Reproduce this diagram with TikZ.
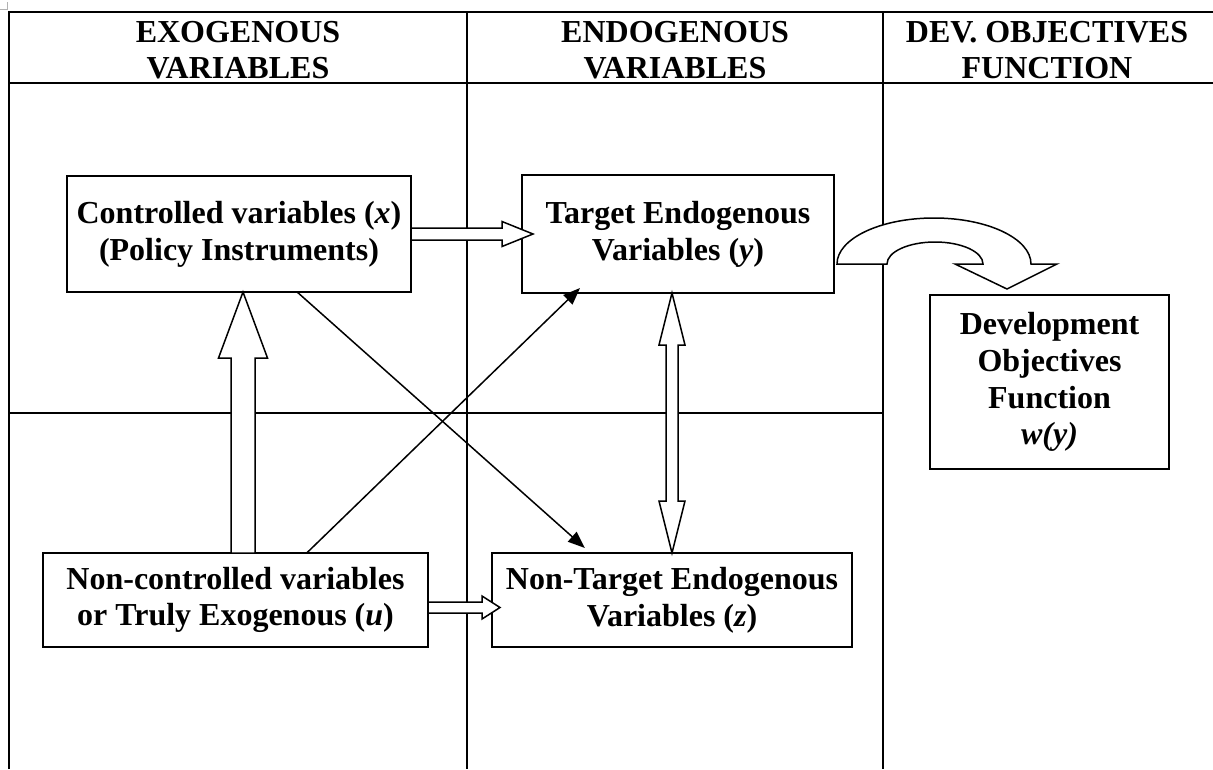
\documentclass[tikz,border=0pt]{standalone}
\usepackage{fontspec}
\setmainfont{Liberation Serif}
\usetikzlibrary{calc,arrows.meta}
\newcommand\blockarr[5]{%
  \coordinate (ba) at #1; \coordinate (bb) at #2;
  \coordinate (bh) at ($(bb)!#5!(ba)$);
  \draw[blk] ($(ba)!#3!90:(bb)$) -- ($(bh)!#3!-90:(ba)$) -- ($(bh)!#4!-90:(ba)$) -- (bb)
    -- ($(bh)!#4!90:(ba)$) -- ($(bh)!#3!90:(ba)$) -- ($(ba)!#3!-90:(bb)$) -- cycle;}
\newcommand\dblarr[5]{%
  \coordinate (da) at #1; \coordinate (db) at #2;
  \coordinate (dha) at ($(da)!#5!(db)$); \coordinate (dhb) at ($(db)!#5!(da)$);
  \draw[blk] (da) -- ($(dha)!#4!90:(db)$) -- ($(dha)!#3!90:(db)$) -- ($(dhb)!#3!-90:(da)$)
    -- ($(dhb)!#4!-90:(da)$) -- (db) -- ($(dhb)!#4!90:(da)$) -- ($(dhb)!#3!90:(da)$)
    -- ($(dha)!#3!-90:(db)$) -- ($(dha)!#4!-90:(db)$) -- cycle;}
\begin{document}
\begin{tikzpicture}[x=1pt,y=-1pt,
  grid/.style={line width=1.8pt},
  box/.style={draw, line width=1.8pt, align=center, inner sep=0pt, outer sep=0pt,
    font=\bfseries\fontsize{32}{36.8}\selectfont},
  hdr/.style={align=center, inner sep=0pt, font=\bfseries\fontsize{32}{36}\selectfont},
  blk/.style={draw, fill=white, line width=1.5pt, line join=miter},
  thinarr/.style={line width=1.5pt, -{Triangle[length=17pt,width=13pt]}}]
\useasboundingbox (0,0) rectangle (1213,769);
% table grid
\draw[grid] (9,769) -- (9,12) -- (1214,12);
\draw[grid] (9,83) -- (1214,83);
\draw[grid] (9,413) -- (883,413);
\draw[grid] (467,12) -- (467,769);
\draw[grid] (883,12) -- (883,769);
\draw[gray!60, line width=0.8pt] (7,2) -- (7,9) -- (0,9);
% headers
\node[hdr] (h1) at (238,50) {EXOGENOUS\\VARIABLES};
\node[hdr] (h2) at (675,50) {ENDOGENOUS\\VARIABLES};
\node[hdr] (h3) at (1047,50) {DEV. OBJECTIVES\\FUNCTION};
% boxes
\node[box, minimum width=344pt, minimum height=116pt] (x) at (239,234)
  {Controlled variables (\textit{x})\\(Policy Instruments)};
\node[box, minimum width=312pt, minimum height=118pt] (y) at (678,234)
  {Target Endogenous\\Variables (\textit{y})};
\node[box, minimum width=239pt, minimum height=174pt] (w) at (1049.5,382)
  {Development\\Objectives\\Function\\\textit{w(y)}};
\node[box, minimum width=385pt, minimum height=94pt] (u) at (235.5,600)
  {Non-controlled variables\\or Truly Exogenous (\textit{u})};
\node[box, minimum width=360pt, minimum height=94pt] (z) at (672,600)
  {Non-Target Endogenous\\Variables (\textit{z})};
% block arrows
\blockarr{(x.east)}{($(y.west)+(11,0)$)}{6pt}{12.5pt}{31pt}
\coordinate (s1) at ($(u.north)+(7.5,0)$);
\blockarr{(s1)}{(s1 |- x.south)}{12pt}{24.5pt}{66pt}
\blockarr{($(u.east)+(0,7.5)$)}{($(z.west)+(8,7.5)$)}{5.5pt}{11.5pt}{18pt}
\dblarr{(z.north |- y.south)}{(z.north)}{6pt}{13pt}{52pt}
% curved block arrow y -> w
\draw[blk] (837,264) .. controls (837,238.6) and (880.4,218) .. (934,218)
  .. controls (987.6,218) and (1031,238.6) .. (1031,264) -- (1057,264) -- (1007,289)
  -- (955,264) -- (983,264) .. controls (983,251.8) and (961.5,242) .. (935,242)
  .. controls (908.5,242) and (887,251.8) .. (887,264) -- cycle;
% thin arrows
\draw[thinarr] ($(x.south west)!0.669!(x.south east)$) -- ($(z.north west)!0.258!(z.north east)+(0,-5)$);
\draw[thinarr] ($(u.north west)!0.685!(u.north east)$) -- ($(y.south west)!0.186!(y.south east)+(0,-5)$);
\end{tikzpicture}
\end{document}
